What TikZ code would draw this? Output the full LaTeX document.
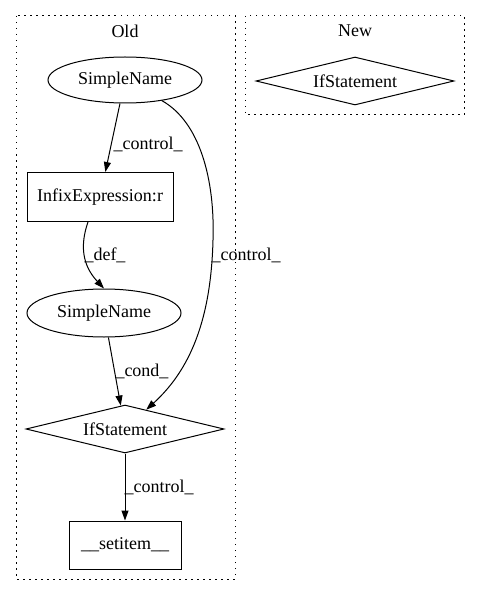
\documentclass[tikz,border=0pt]{standalone}
\usepackage{fontspec}
\setmainfont{Liberation Serif}
\usetikzlibrary{shapes.geometric,arrows.meta}
\begin{document}
\begin{tikzpicture}[x=1pt,y=-1pt,
  every node/.style={font=\fontsize{18pt}{20pt}\selectfont, inner sep=0pt},
  ell/.style={draw, ellipse, line width=1pt, minimum width=154pt, minimum height=46pt},
  boxn/.style={draw, rectangle, line width=1pt},
  dia/.style={draw, diamond, line width=1pt, minimum width=198pt, minimum height=48pt, aspect=4},
  clus/.style={draw, line width=1pt, dash pattern=on 1.5pt off 4.5pt},
  arr/.style={draw, line width=1pt, -{Triangle[length=10pt,width=7pt]}},
  lab/.style={anchor=center}]
\useasboundingbox (0,0) rectangle (480,596);
\draw[clus] (16,16) rectangle (235,579);
\draw[clus] (245,16) rectangle (464,115);
\node (oldt) at (125,31) {Old};
\node (newt) at (355,31) {New};
\node[dia] (ifn) at (355,81) {IfStatement};
\node[ell] (sn1) at (125,80) {SimpleName};
\node[boxn, minimum width=146pt, minimum height=49pt] (inf) at (100,197) {InfixExpression:r};
\node[ell, minimum height=48pt] (sn2) at (104,313) {SimpleName};
\node[dia] (if1) at (125,429) {IfStatement};
\node[boxn, minimum width=112pt, minimum height=48pt] (set) at (125,545) {\_\_setitem\_\_};
\draw[arr] (sn1) -- (inf);
\node[lab] (l1) at (148,144) {\_control\_};
\draw[arr] (inf.south) ++(-12,0) coordinate (infs) (infs) .. controls (80,245) and (82,265) .. (sn2.north);
\node[lab] (l2) at (105,255) {\_def\_};
\draw[arr] (sn1) .. controls (200,122) and (215,180) .. (213,240) .. controls (211,320) and (190,370) .. (if1);
\node[lab] (l3) at (246,255) {\_control\_};
\draw[arr] (sn2) -- (if1);
\node[lab] (l4) at (142,371) {\_cond\_};
\draw[arr] (if1) -- (set);
\node[lab] (l5) at (159,487) {\_control\_};
\end{tikzpicture}
\end{document}
